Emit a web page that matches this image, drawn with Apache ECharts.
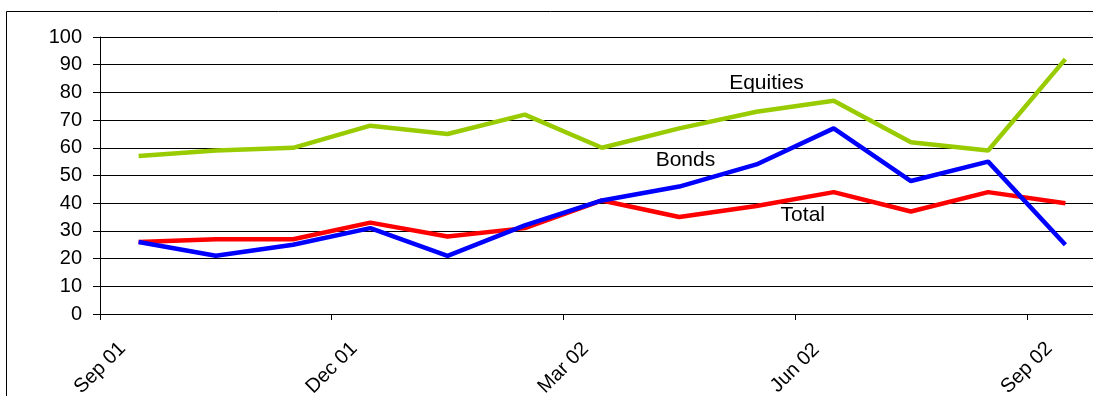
<!DOCTYPE html>
<html>
<head>
<meta charset="utf-8">
<script src="https://cdn.jsdelivr.net/npm/echarts@6/dist/echarts.min.js"></script>
<style>
  html, body { margin: 0; padding: 0; background: #fff; }
  #chart { width: 1093px; height: 396px; }
</style>
</head>
<body>
<div id="chart"></div>
<script>
// Monthly readings, Sep 2001 – Sep 2002 (each plotted mid-month)
const months = ['Sep 01','Oct 01','Nov 01','Dec 01','Jan 02','Feb 02','Mar 02',
                'Apr 02','May 02','Jun 02','Jul 02','Aug 02','Sep 02'];
const equities = [57, 59, 60, 68, 65, 72, 60, 67, 73, 77, 62, 59, 92];
const bonds    = [26, 21, 25, 31, 21, 32, 41, 46, 54, 67, 48, 55, 25];
const total    = [26, 27, 27, 33, 28, 31, 41, 35, 39, 44, 37, 44, 40];

// Quarterly tick labels on the month axis
const tickLabels = { 0: 'Sep 01', 3: 'Dec 01', 6: 'Mar 02', 9: 'Jun 02', 12: 'Sep 02' };

const FONT = '"Liberation Sans", Arial, sans-serif';

// Each month sits in the middle of its slot: x = index + 0.5
const toPoints = arr => arr.map((v, i) => [i + 0.5, v]);

function nameTag(text, x, y) {
  return {
    symbol: 'circle',
    symbolSize: 1,
    silent: true,
    itemStyle: { color: 'rgba(0,0,0,0)' },
    label: { show: true, position: 'inside', formatter: text,
             color: '#000', fontSize: 21, fontFamily: FONT },
    data: [{ coord: [x, y] }]
  };
}

const chart = echarts.init(document.getElementById('chart'), null, { renderer: 'canvas' });

chart.setOption({
  animation: false,
  backgroundColor: '#fff',
  grid: { left: 100, right: -11, top: 37, bottom: 82, containLabel: false, outerBoundsMode: 'none' },
  graphic: [{
    type: 'rect',
    shape: { x: 6.5, y: 11.5, width: 1200, height: 500 },
    style: { fill: 'none', stroke: '#000', lineWidth: 1 },
    silent: true
  }],
  xAxis: {
    type: 'value',
    min: 0,
    max: months.length,
    interval: 3,
    splitLine: { show: false },
    axisLine: { show: true, onZero: false, lineStyle: { color: '#000', width: 1 } },
    axisTick: { show: true, length: 6, lineStyle: { color: '#000' } },
    axisLabel: {
      rotate: 45,
      align: 'center',
      verticalAlign: 'middle',
      margin: 54,
      color: '#000',
      fontSize: 20,
      fontFamily: FONT,
      showMinLabel: true,
      showMaxLabel: false,
      formatter: v => tickLabels[v] || ''
    }
  },
  yAxis: {
    type: 'value',
    min: 0,
    max: 100,
    interval: 10,
    axisLine: { show: true, lineStyle: { color: '#000', width: 1 } },
    axisTick: { show: true, length: 7, lineStyle: { color: '#000' } },
    axisLabel: { margin: 18, color: '#000', fontSize: 20, fontFamily: FONT },
    splitLine: { show: true, lineStyle: { color: '#000', width: 1 } }
  },
  series: [
    {
      name: 'Total', type: 'line', data: toPoints(total),
      showSymbol: false, lineStyle: { color: '#FF0000', width: 4.5 },
      itemStyle: { color: '#FF0000' },
      markPoint: nameTag('Total', 9.1, 35.7)
    },
    {
      name: 'Equities', type: 'line', data: toPoints(equities),
      showSymbol: false, lineStyle: { color: '#99CC00', width: 4.5 },
      itemStyle: { color: '#99CC00' },
      markPoint: nameTag('Equities', 8.63, 83.4)
    },
    {
      name: 'Bonds', type: 'line', data: toPoints(bonds),
      showSymbol: false, lineStyle: { color: '#0000FF', width: 4.5 },
      itemStyle: { color: '#0000FF' },
      markPoint: nameTag('Bonds', 7.58, 55.6)
    }
  ]
});
</script>
</body>
</html>
